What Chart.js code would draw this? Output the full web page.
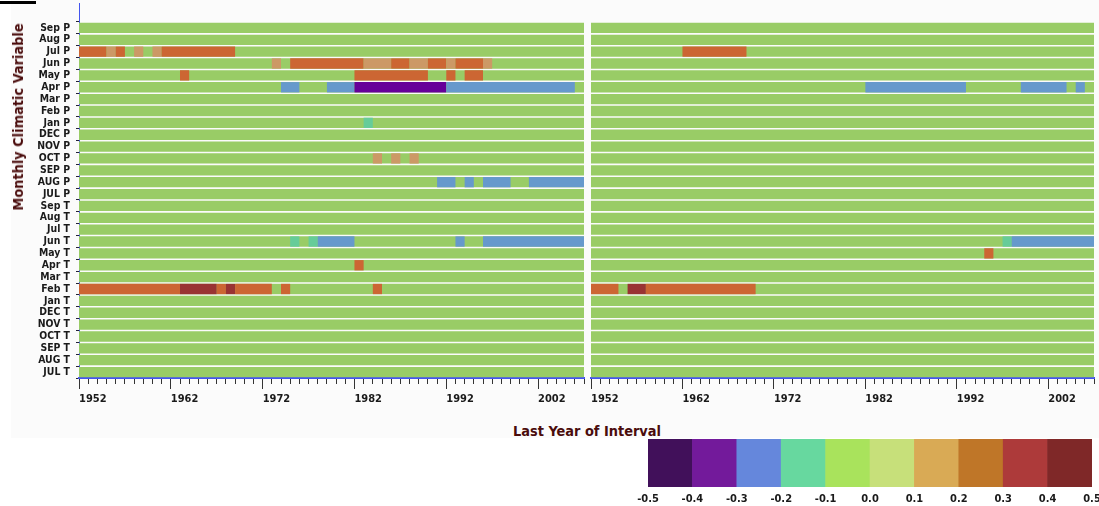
<!DOCTYPE html>
<html>
<head>
<meta charset="utf-8">
<script src="https://cdn.jsdelivr.net/npm/chart.js@4.4.1/dist/chart.umd.min.js"></script>
<style>
  html, body { margin:0; padding:0; background:#fff; width:1099px; height:506px; overflow:hidden; position:relative; }
  #panelBg { position:absolute; left:11px; top:0; width:1088px; height:438px; background:#fbfbfb; }
  #cornerMark { position:absolute; left:0; top:1px; width:36px; height:3px; background:#000; }
  canvas { position:absolute; }
  #cLeft { left:0; top:0; }
  #cRight { left:586px; top:0; }
  #cKey { left:630px; top:430px; }
  .axisTitle { position:absolute; white-space:nowrap; font-weight:bold; font-size:14.4px;
    font-family:'DejaVu Sans Condensed','DejaVu Sans',sans-serif; color:#4a0c0c; }
  #yTitle { left:18px; top:117px; transform:translate(-50%,-50%) rotate(-90deg); }
  #xTitle { left:587px; top:431px; transform:translate(-50%,-50%); }
</style>
</head>
<body>
<div id="panelBg"></div>
<div id="cornerMark"></div>
<canvas id="cLeft" width="588" height="420"></canvas>
<canvas id="cRight" width="513" height="420"></canvas>
<div id="yTitle" class="axisTitle">Monthly Climatic Variable</div>
<div id="xTitle" class="axisTitle">Last Year of Interval</div>
<canvas id="cKey" width="469" height="76"></canvas>
<script>
// ---------------- data ----------------
const rowLabels = ['Sep P','Aug P','Jul P','Jun P','May P','Apr P','Mar P','Feb P','Jan P',
  'DEC P','NOV P','OCT P','SEP P','AUG P','JUL P',
  'Sep T','Aug T','Jul T','Jun T','May T','Apr T','Mar T','Feb T','Jan T',
  'DEC T','NOV T','OCT T','SEP T','AUG T','JUL T'];

const years = [1952,1953,1954,1955,1956,1957,1958,1959,1960,1961,1962,1963,1964,1965,1966,1967,
  1968,1969,1970,1971,1972,1973,1974,1975,1976,1977,1978,1979,1980,1981,1982,1983,1984,1985,
  1986,1987,1988,1989,1990,1991,1992,1993,1994,1995,1996,1997,1998,1999,2000,2001,2002,2003,
  2004,2005,2006];

const decadeTicks = [1952, 1962, 1972, 1982, 1992, 2002];

// significant runs: [row, first year, last year, correlation]
const leftRuns = [
  ['Jul P',1952,1954,0.25], ['Jul P',1955,1955,0.15], ['Jul P',1956,1956,0.25],
  ['Jul P',1958,1958,0.15], ['Jul P',1960,1960,0.15], ['Jul P',1961,1968,0.25],
  ['Jun P',1973,1973,0.15], ['Jun P',1975,1982,0.25], ['Jun P',1983,1985,0.15],
  ['Jun P',1986,1987,0.25], ['Jun P',1988,1989,0.15], ['Jun P',1990,1991,0.25],
  ['Jun P',1992,1992,0.15], ['Jun P',1993,1995,0.25], ['Jun P',1996,1996,0.15],
  ['May P',1963,1963,0.25], ['May P',1982,1989,0.25], ['May P',1992,1992,0.25],
  ['May P',1994,1995,0.25],
  ['Apr P',1974,1975,-0.25], ['Apr P',1979,1981,-0.25], ['Apr P',1982,1991,-0.35],
  ['Apr P',1992,2005,-0.25],
  ['Jan P',1983,1983,-0.15],
  ['OCT P',1984,1984,0.15], ['OCT P',1986,1986,0.15], ['OCT P',1988,1988,0.15],
  ['AUG P',1991,1992,-0.25], ['AUG P',1994,1994,-0.25], ['AUG P',1996,1998,-0.25],
  ['AUG P',2001,2006,-0.25],
  ['Jun T',1975,1975,-0.15], ['Jun T',1977,1977,-0.15], ['Jun T',1978,1981,-0.25],
  ['Jun T',1993,1993,-0.25], ['Jun T',1996,2006,-0.25],
  ['Apr T',1982,1982,0.25],
  ['Feb T',1952,1962,0.25], ['Feb T',1963,1966,0.35], ['Feb T',1967,1967,0.25],
  ['Feb T',1968,1968,0.35], ['Feb T',1969,1972,0.25], ['Feb T',1974,1974,0.25],
  ['Feb T',1984,1984,0.25]
];

const rightRuns = [
  ['Jul P',1962,1968,0.25],
  ['Apr P',1982,1992,-0.25], ['Apr P',1999,2003,-0.25], ['Apr P',2005,2005,-0.25],
  ['May T',1995,1995,0.25],
  ['Jun T',1997,1997,-0.15], ['Jun T',1998,2006,-0.25],
  ['Feb T',1952,1954,0.25], ['Feb T',1956,1957,0.35], ['Feb T',1958,1969,0.25]
];

const legendEdges = [-0.5,-0.4,-0.3,-0.2,-0.1,0.0,0.1,0.2,0.3,0.4,0.5];
const legendColors = ['#41105a','#731a9b','#6587dc','#67d89f','#a9e35c','#c7e07a',
  '#d9aa55','#bf7628','#ad3a3a','#7f2828'];

const nonSignificantColor = '#99cc66';

function cellColor(r) {
  if (r <= -0.3) return '#660099';
  if (r <= -0.2) return '#6699cc';
  if (r <= -0.1) return '#66cc99';
  if (r < 0.1)  return nonSignificantColor;
  if (r < 0.2)  return '#cc9966';
  if (r < 0.3)  return '#cc6633';
  return '#993333';
}

// ---------------- charts ----------------
const FONT = "'DejaVu Sans Condensed', 'DejaVu Sans', sans-serif";
Chart.defaults.font.family = FONT;
const AXIS_BLUE = '#4455ee';

function panelConfig(runs, showY, padding) {
  const firstYear = years[0];
  const endYear = years[years.length - 1] + 1;
  const base = rowLabels.map((_, i) => ({ x: [firstYear, endYear], y: i }));
  const sig = runs.map(([row, y0, y1, r]) => ({ x: [y0, y1 + 1], y: rowLabels.indexOf(row), r }));
  const barOpts = { grouped: false, categoryPercentage: 1, barPercentage: 0.87, borderWidth: 0 };
  return {
    type: 'bar',
    data: { datasets: [
      Object.assign({ data: sig, order: 1, backgroundColor: sig.map(d => cellColor(d.r)) }, barOpts),
      Object.assign({ data: base, order: 2, backgroundColor: nonSignificantColor }, barOpts)
    ]},
    options: {
      indexAxis: 'y', responsive: false, animation: false, devicePixelRatio: 1,
      layout: { padding },
      plugins: { legend: { display: false }, tooltip: { enabled: false } },
      scales: {
        x: {
          type: 'linear', min: firstYear, max: endYear, beginAtZero: false, offset: false,
          afterBuildTicks: s => { s.ticks = years.concat([endYear]).map(v => ({ value: v })); },
          ticks: {
            autoSkip: false, maxRotation: 0, minRotation: 0, align: 'start', padding: 4,
            color: '#1a1a1a', font: { family: FONT, weight: 'bold', size: 11 },
            callback: v => decadeTicks.includes(v) ? String(v) : ''
          },
          grid: {
            drawOnChartArea: false, tickLength: 11, tickColor: '#333', tickWidth: 1,
            tickBorderDash: ctx => (ctx.tick && decadeTicks.includes(ctx.tick.value)) ? [] : [5, 30]
          },
          border: { display: true, color: AXIS_BLUE, width: 2 },
          afterFit: s => { s.height = 42; s.paddingLeft = 0; s.paddingRight = 0; }
        },
        y: {
          type: 'linear', reverse: true, offset: false, min: -2.1, max: rowLabels.length - 0.5,
          display: showY,
          afterBuildTicks: s => { s.ticks = rowLabels.map((_, i) => ({ value: i })); },
          ticks: {
            autoSkip: false, padding: 6, color: '#1a1a1a',
            font: { family: FONT, weight: 'bold', size: 10.4 },
            callback: v => rowLabels[v]
          },
          grid: { offset: true, drawOnChartArea: false, tickLength: 3, tickColor: '#223', tickWidth: 1 },
          border: { display: true, color: AXIS_BLUE, width: 1 },
          afterFit: s => { s.width = showY ? 79 : 0; s.paddingTop = 0; s.paddingBottom = 0; }
        }
      }
    }
  };
}

new Chart(document.getElementById('cLeft'), panelConfig(leftRuns, true, { left: 0, top: 3, right: 4, bottom: 0 }));
new Chart(document.getElementById('cRight'), panelConfig(rightRuns, false, { left: 5, top: 3, right: 5, bottom: 0 }));

// colour key
const keyData = legendColors.map((c, i) => ({ x: [legendEdges[i], legendEdges[i + 1]], y: 'key' }));
new Chart(document.getElementById('cKey'), {
  type: 'bar',
  data: { labels: ['key'], datasets: [{
    data: keyData, backgroundColor: legendColors, borderWidth: 0,
    categoryPercentage: 1, barPercentage: 1
  }]},
  options: {
    indexAxis: 'y', responsive: false, animation: false, devicePixelRatio: 1,
    layout: { padding: { left: 18, top: 9, right: 7, bottom: 0 } },
    plugins: { legend: { display: false }, tooltip: { enabled: false } },
    scales: {
      x: {
        type: 'linear', min: legendEdges[0], max: legendEdges[legendEdges.length - 1],
        afterBuildTicks: s => { s.ticks = legendEdges.map(v => ({ value: v })); },
        ticks: {
          autoSkip: false, maxRotation: 0, padding: 6, color: '#1a1a1a',
          font: { family: FONT, weight: 'bold', size: 11 },
          callback: v => Number(v).toFixed(1)
        },
        grid: { display: false, drawTicks: false },
        border: { display: false },
        afterFit: s => { s.height = 19; s.paddingLeft = 0; s.paddingRight = 0; }
      },
      y: { display: false }
    }
  }
});
</script>
</body>
</html>
